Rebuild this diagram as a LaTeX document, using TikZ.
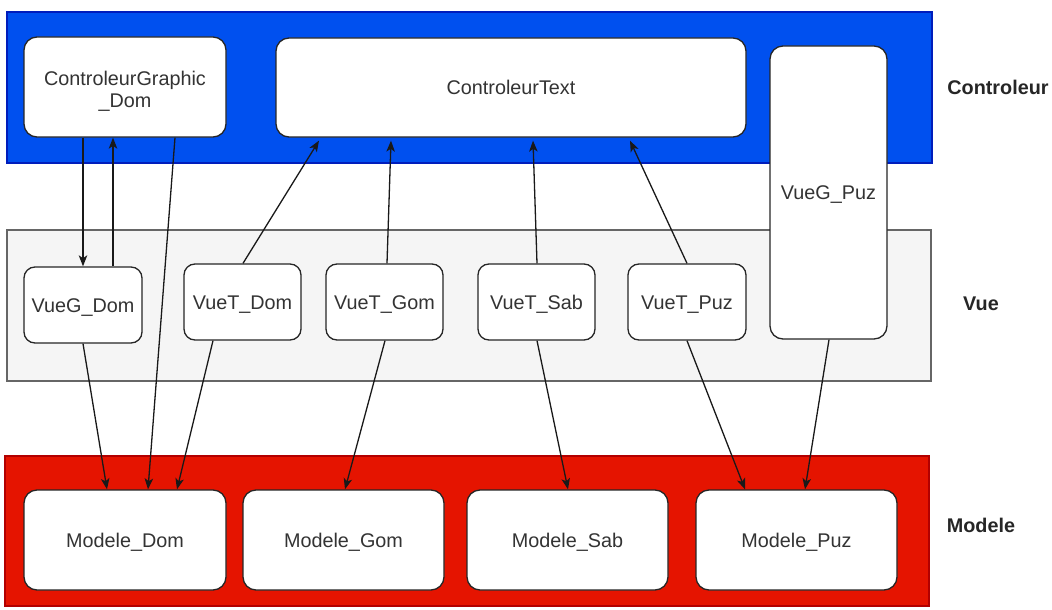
\documentclass[tikz,border=0pt]{standalone}
\usepackage{fontspec}
\setmainfont{Liberation Sans}
\usetikzlibrary{arrows.meta,calc}
\definecolor{ctrlblue}{HTML}{0050EF}
\definecolor{ctrlbluedk}{HTML}{001DBC}
\definecolor{modred}{HTML}{E51400}
\definecolor{modreddk}{HTML}{B20000}
\definecolor{vuegray}{HTML}{F5F5F5}
\definecolor{vuegraydk}{HTML}{666666}
\definecolor{txt}{HTML}{333333}
\begin{document}
\begin{tikzpicture}[x=1pt,y=-1pt,
  band/.style={rectangle,inner sep=0pt,line width=1.2pt},
  box/.style={rectangle,rounded corners=13pt,draw=black!85,fill=white,line width=1.3pt,inner sep=2pt,
    align=center,text=txt,font=\fontsize{19.8}{23}\selectfont,text height=14pt,text depth=0pt},
  smallbox/.style={box,rounded corners=11pt},
  layerlabel/.style={font=\fontsize{19.8}{23}\selectfont\bfseries,text=black!85,inner sep=0pt,text height=14pt,text depth=0pt},
  conn/.style={draw=black!90,line width=1.3pt,-{Stealth[length=11pt,width=8.5pt,inset=2.8pt]}}]
\useasboundingbox (0,0) rectangle (1052,610);
% layers
\node[band,fill=ctrlblue,draw=ctrlbluedk,minimum width=925pt,minimum height=151pt] (bctrl) at (469.5,87.5) {};
\node[band,fill=vuegray,draw=vuegraydk,minimum width=924pt,minimum height=151pt] (bvue) at (469,305.5) {};
\node[band,fill=modred,draw=modreddk,minimum width=924pt,minimum height=150pt] (bmod) at (467,531) {};
\node[layerlabel] (lctrl) at (998,88) {Controleur};
\node[layerlabel] (lvue) at (981,303) {Vue};
\node[layerlabel] (lmod) at (981,525) {Modele};
% controller boxes
\node[box,text height=40pt,minimum width=202pt,minimum height=100pt] (cgd) at (125,87) {ControleurGraphic\\[-1pt]\_Dom};
\node[box,minimum width=470pt,minimum height=99pt] (ct) at (511,87.5) {ControleurText};
\node[box,minimum width=117pt,minimum height=293pt] (vgp) at (828.5,192.5) {VueG\_Puz};
% view boxes
\node[smallbox,minimum width=118pt,minimum height=76pt] (vgd) at (83,305) {VueG\_Dom};
\node[smallbox,minimum width=117pt,minimum height=76pt] (vtd) at (242.5,302) {VueT\_Dom};
\node[smallbox,minimum width=117pt,minimum height=76pt] (vtg) at (384.5,302) {VueT\_Gom};
\node[smallbox,minimum width=117pt,minimum height=76pt] (vts) at (536.5,302) {VueT\_Sab};
\node[smallbox,minimum width=118pt,minimum height=76pt] (vtp) at (687,302) {VueT\_Puz};
% model boxes
\node[box,minimum width=202pt,minimum height=100pt] (md) at (125,540) {Modele\_Dom};
\node[box,minimum width=201pt,minimum height=100pt] (mg) at (343.5,540) {Modele\_Gom};
\node[box,minimum width=201pt,minimum height=100pt] (ms) at (567.5,540) {Modele\_Sab};
\node[box,minimum width=201pt,minimum height=100pt] (mp) at (796.5,540) {Modele\_Puz};
% connectors
\draw[conn] ([xshift=-42pt]cgd.south) -- (vgd.north);
\draw[conn] ([xshift=30pt]vgd.north) -- ([xshift=-12pt]cgd.south);
\draw[conn] ([xshift=50pt]cgd.south) -- ([xshift=23pt]md.north);
\draw[conn] (vgd.south) -- ([xshift=-18pt]md.north);
\draw[conn] ([xshift=0.5pt]vtd.north) -- ([xshift=-192pt,yshift=-3pt]ct.south);
\draw[conn] ([xshift=-29.5pt]vtd.south) -- ([xshift=52pt]md.north);
\draw[conn] ([xshift=2.5pt]vtg.north) -- ([xshift=-120pt,yshift=-3pt]ct.south);
\draw[conn] ([xshift=0.5pt]vtg.south) -- ([xshift=1.5pt]mg.north);
\draw[conn] ([xshift=0.5pt]vts.north) -- ([xshift=22pt,yshift=-3pt]ct.south);
\draw[conn] ([xshift=0.5pt]vts.south) -- ([xshift=0.5pt]ms.north);
\draw[conn] (vtp.north) -- ([xshift=119pt,yshift=-3pt]ct.south);
\draw[conn] (vtp.south) -- ([xshift=-51.5pt]mp.north);
\draw[conn] ([xshift=0.5pt]vgp.south) -- ([xshift=8.5pt]mp.north);
\end{tikzpicture}
\end{document}
